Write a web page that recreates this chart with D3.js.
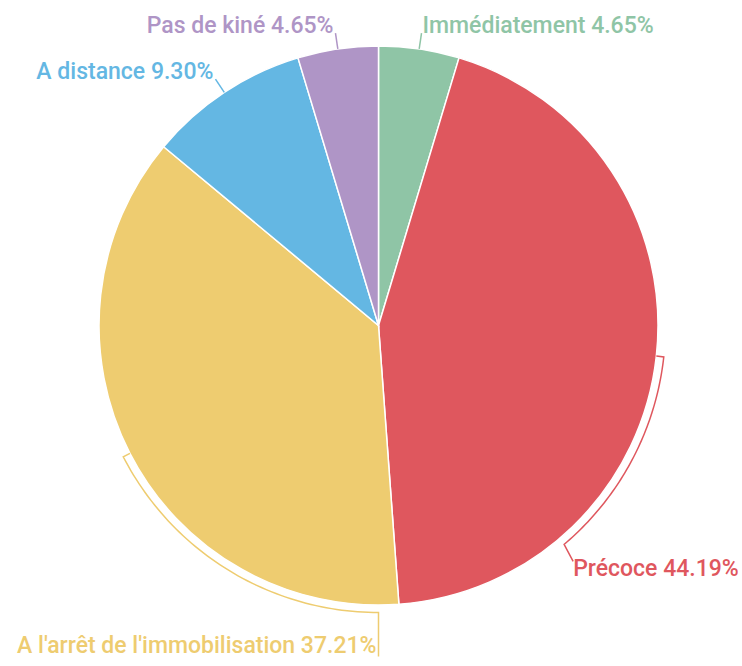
<!DOCTYPE html>
<html>
<head>
<meta charset="utf-8">
<script src="https://cdn.jsdelivr.net/npm/d3@7"></script>
<style>
  body { margin: 0; background: #fff; }
  svg text { font-family: Roboto, sans-serif; }
</style>
</head>
<body>
<svg id="chart" width="742" height="666"></svg>
<script>
// data
const categories = ['Immédiatement', 'Précoce', "A l'arrêt de l'immobilisation", 'A distance', 'Pas de kiné'];
const counts = [2, 19, 16, 4, 2];
const colors = ['#8fc5a6', '#df575e', '#eecc70', '#64b7e3', '#af95c6'];

// label line layout per slice (bracket = arc along the pie edge, else straight radial)
const labelLayout = [
  { type: 'radial', len: 16, anchor: 'start' },
  { type: 'bracket', arcTo: 139.7, leg: [9, 17], anchor: 'start', tdx: 9, tdy: 32 },
  { type: 'bracket', arcTo: 180, leg: [0, 44], anchor: 'end', tdx: -2, tdy: 40 },
  { type: 'radial', len: 16, anchor: 'end' },
  { type: 'radial', len: 16, anchor: 'end' },
];

const svg = d3.select('#chart');
const cx = 378.5, cy = 325.5, R = 279.5;
const total = d3.sum(counts);
const fmt = d3.format('.2f');

const rad = (deg) => (deg * Math.PI) / 180;
const pt = (angle, r) => [cx + r * Math.sin(angle), cy - r * Math.cos(angle)];

const pie = d3.pie().sort(null).value((d) => d.value);
const arcs = pie(categories.map((c, i) => ({ name: c, value: counts[i], color: colors[i], i })));

const arc = d3.arc().innerRadius(0).outerRadius(R);

const g = svg.append('g');

g.selectAll('path.slice')
  .data(arcs)
  .join('path')
  .attr('class', 'slice')
  .attr('transform', `translate(${cx},${cy})`)
  .attr('d', arc)
  .attr('fill', (d) => d.data.color)
  .attr('stroke', '#fff')
  .attr('stroke-width', 1.5);

// labels
arcs.forEach((d) => {
  const lay = labelLayout[d.data.i];
  const mid = (d.startAngle + d.endAngle) / 2;
  const color = d.data.color;
  let pts = [], tx, ty;

  if (lay.type === 'radial') {
    const a = pt(mid, R);
    const b = pt(mid, R + lay.len);
    pts = [a, b];
    tx = b[0] + (lay.anchor === 'start' ? 1 : -2);
    ty = b[1];
  } else {
    const rr = R + 7.5;
    pts.push(pt(mid, R));
    const end = rad(lay.arcTo);
    const steps = 60;
    for (let k = 0; k <= steps; k++) {
      const t = mid + ((end - mid) * k) / steps;
      pts.push(pt(t, rr));
    }
    const last = pts[pts.length - 1];
    pts.push([last[0] + lay.leg[0], last[1] + lay.leg[1]]);
    tx = last[0] + lay.tdx;
    ty = last[1] + lay.tdy;
  }

  g.append('path')
    .attr('d', d3.line()(pts))
    .attr('fill', 'none')
    .attr('stroke', color)
    .attr('stroke-width', 1.5);

  g.append('text')
    .attr('x', tx)
    .attr('y', ty)
    .attr('text-anchor', lay.anchor)
    .attr('fill', color)
    .attr('font-size', 23)
    .attr('font-weight', 500)
    .text(`${d.data.name} ${fmt((d.data.value / total) * 100)}%`);
});
</script>
</body>
</html>
